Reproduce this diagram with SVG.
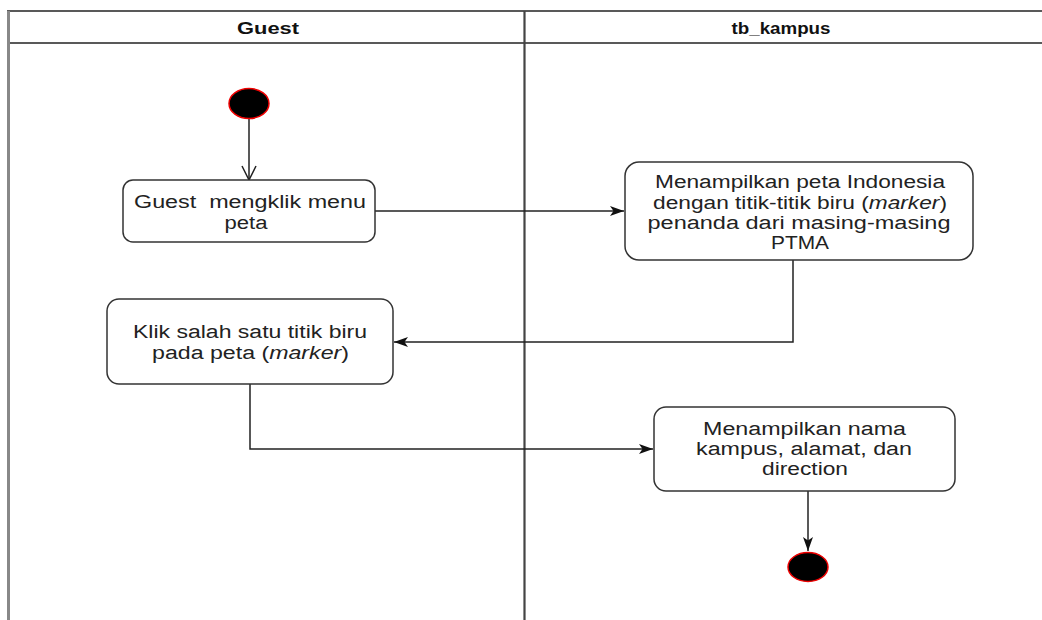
<svg xmlns="http://www.w3.org/2000/svg" width="1042" height="620" viewBox="0 0 1042 620">
<style>
.lane{fill:none;stroke:#222;stroke-width:1.6}
.box{fill:#fff;stroke:#333;stroke-width:1.5}
.txt{font-family:"Liberation Sans",Arial,sans-serif;font-size:18px;fill:#222;text-anchor:middle}
.hdr{font-family:"Liberation Sans",Arial,sans-serif;font-size:16.5px;font-weight:bold;fill:#111;text-anchor:middle}
.con{fill:none;stroke:#222;stroke-width:1.5}
.state{fill:#000;stroke:#e00;stroke-width:1.5}
</style>
<defs>
<marker id="filled" markerUnits="userSpaceOnUse" viewBox="0 0 14 10" refX="14" refY="5" markerWidth="14" markerHeight="10" orient="auto">
<path d="M0,0 L14,5 L0,10 L3.5,5 Z" fill="#111"/>
</marker>
<marker id="open" markerUnits="userSpaceOnUse" viewBox="0 0 16 16" refX="15" refY="8" markerWidth="16" markerHeight="16" orient="auto">
<path d="M1,1 L15,8 L1,15" fill="none" stroke="#222" stroke-width="1.5"/>
</marker>
</defs>
<rect width="1042" height="620" fill="#fff"/>
<g id="pool">
<line x1="7" y1="11" x2="1042" y2="11" class="lane"/>
<line x1="8" y1="43" x2="1042" y2="43" class="lane" stroke="#444"/>
<line x1="8.5" y1="11" x2="8.5" y2="620" stroke="#888" stroke-width="3"/>
<line x1="524.5" y1="11" x2="524.5" y2="620" stroke="#444" stroke-width="2.2"/>
<text class="hdr" x="268" y="34" textLength="62" lengthAdjust="spacingAndGlyphs">Guest</text>
<text class="hdr" x="781" y="34" textLength="99" lengthAdjust="spacingAndGlyphs">tb_kampus</text>
</g>
<g id="connectors">
<line class="con" x1="249" y1="119" x2="249" y2="180" marker-end="url(#open)"/>
<line class="con" x1="375" y1="211" x2="624" y2="211" marker-end="url(#filled)"/>
<polyline class="con" points="793,260 793,342 394,342" marker-end="url(#filled)"/>
<polyline class="con" points="250,384 250,449 653,449" marker-end="url(#filled)"/>
<line class="con" x1="808" y1="491" x2="808" y2="551" marker-end="url(#filled)"/>
</g>
<g id="start">
<ellipse class="state" cx="249" cy="103.5" rx="20" ry="15"/>
</g>
<g id="a1">
<rect class="box" x="123" y="180" width="252" height="62" rx="10"/>
<text class="txt" x="250" y="208" textLength="232" lengthAdjust="spacingAndGlyphs">Guest&#160; mengklik menu</text>
<text class="txt" x="246" y="229" textLength="43" lengthAdjust="spacingAndGlyphs">peta</text>
</g>
<g id="a2">
<rect class="box" x="625" y="162" width="348" height="98" rx="14"/>
<text class="txt" x="800" y="188" textLength="290" lengthAdjust="spacingAndGlyphs">Menampilkan peta Indonesia</text>
<text class="txt" x="800" y="208.5" textLength="294" lengthAdjust="spacingAndGlyphs">dengan titik-titik biru (<tspan font-style="italic">marker</tspan>)</text>
<text class="txt" x="799" y="229" textLength="303" lengthAdjust="spacingAndGlyphs">penanda dari masing-masing</text>
<text class="txt" x="800" y="249" textLength="58" lengthAdjust="spacingAndGlyphs">PTMA</text>
</g>
<g id="a3">
<rect class="box" x="107" y="299" width="286" height="85" rx="12"/>
<text class="txt" x="250" y="338" textLength="234" lengthAdjust="spacingAndGlyphs">Klik salah satu titik biru</text>
<text class="txt" x="250.5" y="359" textLength="197" lengthAdjust="spacingAndGlyphs">pada peta (<tspan font-style="italic">marker</tspan>)</text>
</g>
<g id="a4">
<rect class="box" x="654" y="407" width="301" height="84" rx="12"/>
<text class="txt" x="804.5" y="435" textLength="203" lengthAdjust="spacingAndGlyphs">Menampilkan nama</text>
<text class="txt" x="804" y="455" textLength="216" lengthAdjust="spacingAndGlyphs">kampus, alamat, dan</text>
<text class="txt" x="805" y="475" textLength="86" lengthAdjust="spacingAndGlyphs">direction</text>
</g>
<g id="end">
<ellipse class="state" cx="808" cy="567" rx="20" ry="14.5"/>
</g>
</svg>
